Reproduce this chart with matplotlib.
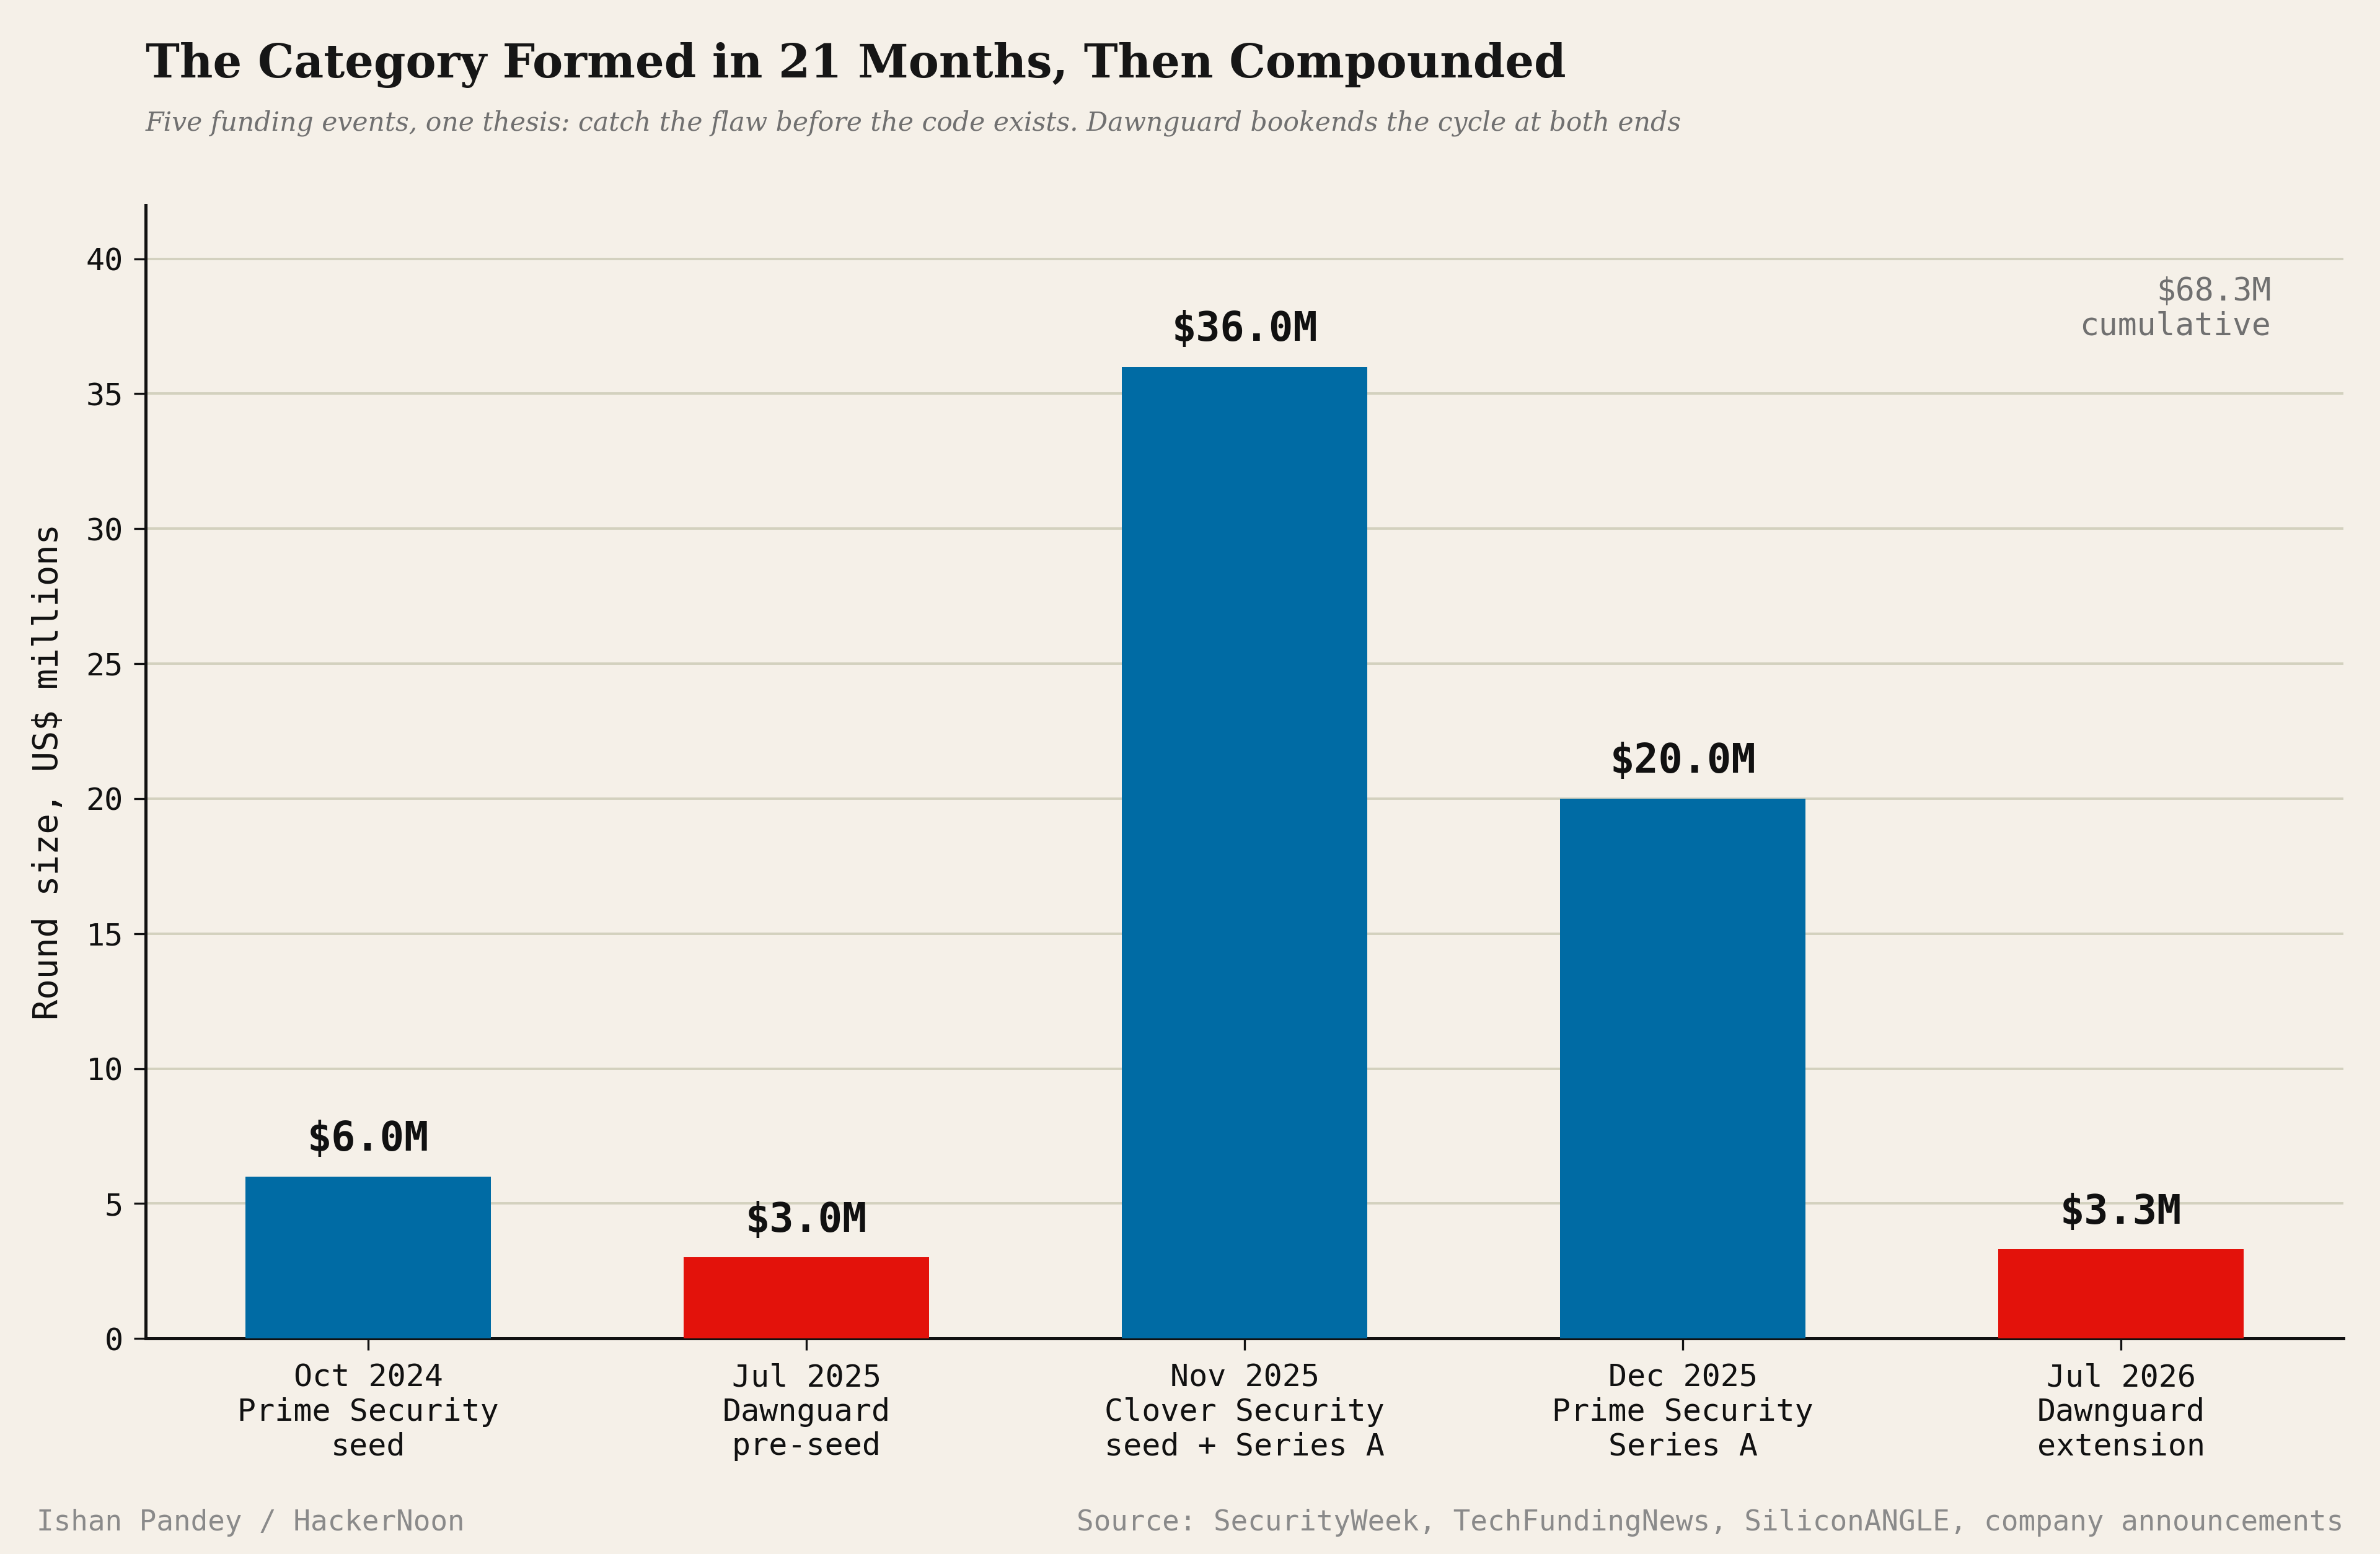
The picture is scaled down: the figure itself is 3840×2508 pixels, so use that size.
import matplotlib
matplotlib.use("Agg")
import matplotlib.pyplot as plt

# funding rounds
dates = ["Oct 2024", "Jul 2025", "Nov 2025", "Dec 2025", "Jul 2026"]
companies = ["Prime Security", "Dawnguard", "Clover Security", "Prime Security", "Dawnguard"]
stages = ["seed", "pre-seed", "seed + Series A", "Series A", "extension"]
amounts = [6.0, 3.0, 36.0, 20.0, 3.3]
is_dawnguard = [False, True, False, False, True]

BG = "#F5F0E8"
BLUE = "#006BA4"
RED = "#E3120B"
MONO = "DejaVu Sans Mono"
SERIF = "DejaVu Serif"

plt.rcParams["font.family"] = MONO

fig = plt.figure(figsize=(19.2, 12.54), dpi=200, facecolor=BG)
ax = fig.add_axes([0.0612, 0.1387, 0.9235, 0.7295], facecolor=BG)

xs = list(range(len(amounts)))
bar_colors = [RED if d else BLUE for d in is_dawnguard]
ax.bar(xs, amounts, width=0.56, color=bar_colors, zorder=3)

for x, v in zip(xs, amounts):
    ax.annotate(f"${v:.1f}M", (x, v), xytext=(0, 10), textcoords="offset points",
                ha="center", va="bottom", fontsize=23.5, fontweight="bold",
                color="#111111", zorder=4)

ax.set_ylim(0, 42)
ax.set_yticks(range(0, 41, 5))
ax.set_xticks(xs)
ax.set_xticklabels([f"{d}\n{c}\n{s}" for d, c, s in zip(dates, companies, stages)],
                   linespacing=1.2)
ax.tick_params(axis="both", labelsize=18, length=7, width=1.2, color="#111111",
               labelcolor="#111111")
ax.tick_params(axis="x", pad=7)
ax.tick_params(axis="y", pad=6)

ax.grid(axis="y", color="#D3D1BE", linewidth=1.4, zorder=0)
ax.set_axisbelow(True)
for s in ["top", "right"]:
    ax.spines[s].set_visible(False)
for s in ["left", "bottom"]:
    ax.spines[s].set_linewidth(1.8)
    ax.spines[s].set_color("#111111")

ax.set_ylabel("Round size, US$ millions", fontsize=20, color="#111111", labelpad=12)

total = sum(amounts)
ax.text(0.967, 0.937, f"${total:.1f}M\ncumulative", transform=ax.transAxes,
        ha="right", va="top", fontsize=18.5, color="#707070", linespacing=1.15)

fig.text(0.0612, 0.950, "The Category Formed in 21 Months, Then Compounded",
         family=SERIF, fontweight="bold", fontsize=26.5, color="#161616")
fig.text(0.0612, 0.916,
         "Five funding events, one thesis: catch the flaw before the code exists. "
         "Dawnguard bookends the cycle at both ends",
         family=SERIF, style="italic", fontsize=15.3, color="#707070")

fig.text(0.0154, 0.015, "Ishan Pandey / HackerNoon", fontsize=16.5, color="#8A8A8A")
fig.text(0.9847, 0.015,
         "Source: SecurityWeek, TechFundingNews, SiliconANGLE, company announcements",
         ha="right", fontsize=16.5, color="#8A8A8A")

fig.savefig("out.png", dpi=200, facecolor=BG)
